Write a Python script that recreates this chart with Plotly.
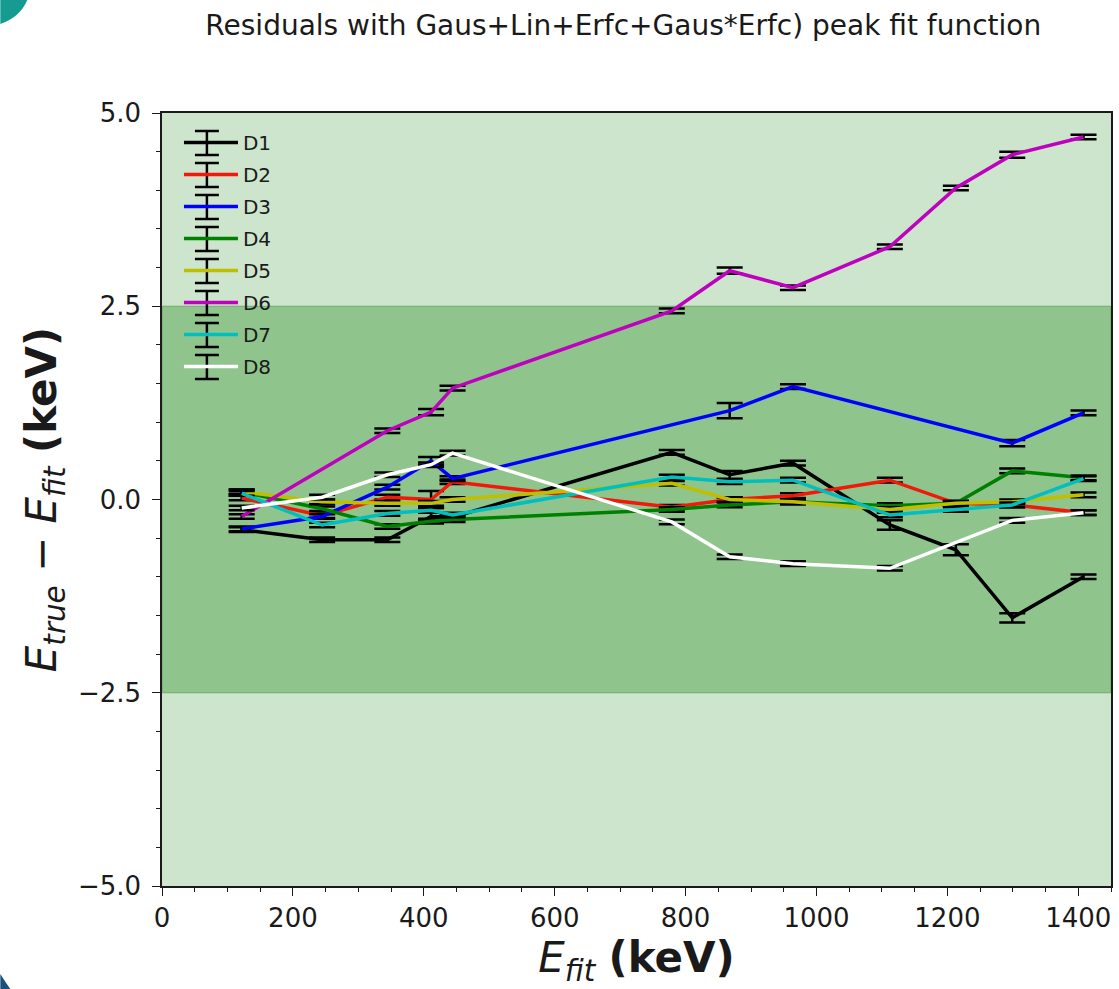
import plotly.graph_objects as go

# ---------------- data ----------------
E_ALL = [121.78, 244.70, 344.28, 411.12, 443.96, 778.90, 867.38, 964.08,
         1112.07, 1212.95, 1299.14, 1408.01]

d1_x = E_ALL
d1_y = [-0.39, -0.52, -0.52, -0.22, -0.23, 0.61, 0.32, 0.47, -0.33, -0.65, -1.53, -1.00]
d1_e = [0.03, 0.03, 0.03, 0.05, 0.03, 0.03, 0.05, 0.03, 0.06, 0.07, 0.06, 0.03]

d2_x = E_ALL
d2_y = [0.02, -0.21, 0.03, 0.00, 0.23, -0.10, 0.00, 0.05, 0.25, -0.05, -0.07, -0.17]
d2_e = [0.03, 0.03, 0.03, 0.11, 0.03, 0.03, 0.03, 0.03, 0.03, 0.03, 0.03, 0.03]

d3_x = [121.78, 244.70, 344.28, 411.12, 443.96, 867.38, 964.08, 1299.14, 1408.01]
d3_y = [-0.38, -0.22, 0.16, 0.50, 0.27, 1.15, 1.46, 0.73, 1.12]
d3_e = [0.03, 0.03, 0.03, 0.05, 0.03, 0.10, 0.03, 0.04, 0.03]

d4_x = E_ALL
d4_y = [0.10, -0.12, -0.35, -0.28, -0.26, -0.13, -0.07, -0.03, -0.08, -0.05, 0.37, 0.28]
d4_e = [0.03] * 12

d5_x = E_ALL
d5_y = [0.10, -0.03, -0.05, -0.05, 0.00, 0.21, 0.00, -0.03, -0.13, -0.05, -0.03, 0.06]
d5_e = [0.03] * 12

d6_x = [121.78, 344.28, 411.12, 443.96, 778.90, 867.38, 964.08, 1112.07,
        1212.95, 1299.14, 1408.01]
d6_y = [-0.22, 0.89, 1.13, 1.44, 2.44, 2.96, 2.74, 3.27, 4.03, 4.46, 4.69]
d6_e = [0.03, 0.03, 0.04, 0.03, 0.03, 0.04, 0.03, 0.03, 0.03, 0.04, 0.03]

d7_x = E_ALL
d7_y = [0.08, -0.33, -0.18, -0.14, -0.20, 0.29, 0.23, 0.25, -0.20, -0.13, -0.07, 0.27]
d7_e = [0.03] * 12

d8_x = [121.78, 244.70, 344.28, 411.12, 443.96, 778.90, 867.38, 964.08,
        1112.07, 1299.14, 1408.01]
d8_y = [-0.11, 0.03, 0.32, 0.45, 0.60, -0.29, -0.74, -0.83, -0.89, -0.27, -0.17]
d8_e = [0.03] * 11

series_names = ["D1", "D2", "D3", "D4", "D5", "D6", "D7", "D8"]
series_x = [d1_x, d2_x, d3_x, d4_x, d5_x, d6_x, d7_x, d8_x]
series_y = [d1_y, d2_y, d3_y, d4_y, d5_y, d6_y, d7_y, d8_y]
series_e = [d1_e, d2_e, d3_e, d4_e, d5_e, d6_e, d7_e, d8_e]
series_colors = ["#000000", "#f0190a", "#0000ff", "#008000", "#bfbf00",
                 "#bf00bf", "#00bfbf", "#ffffff"]

x_ticks = [0, 200, 400, 600, 800, 1000, 1200, 1400]
y_ticks = [-5.0, -2.5, 0.0, 2.5, 5.0]
band_low, band_high = -2.5, 2.5

FONT = "DejaVu Sans"
INK = "#1a1a1a"

fig = go.Figure()
for name, xs, ys, es, col in zip(series_names, series_x, series_y, series_e, series_colors):
    fig.add_trace(go.Scatter(
        x=xs, y=ys, name=name, mode="lines", legendgroup=name,
        line=dict(color=col, width=3.5),
        error_y=dict(type="data", array=es, visible=True, color="black",
                     thickness=2.5, width=13),
    ))

# geometry helpers (figure px -> paper)
W, H = 1119, 989
L, R, T, B = 162, 6, 113, 103
PW, PH = W - L - R, H - T - B


def px(X, Y):
    return (X - L) / PW, (H - B - Y) / PH


shapes = []
# axes background (light green) and the +-2.5 band (darker green)
shapes.append(dict(type="rect", xref="x domain", yref="y domain", x0=0, x1=1, y0=0, y1=1,
                   fillcolor="rgb(204,229,204)", line=dict(width=0), layer="below"))
shapes.append(dict(type="rect", xref="x domain", yref="y", x0=0, x1=1,
                   y0=band_low, y1=band_high,
                   fillcolor="rgb(143,196,140)", line=dict(color="rgb(112,170,110)", width=1.2),
                   layer="below"))

# decorative frame corners
a = px(0, 0); b = px(27, 0); c = px(20, 17); d = px(0, 24)
shapes.append(dict(type="path", xref="paper", yref="paper",
                   path=f"M {a[0]},{a[1]} L {b[0]},{b[1]} Q {c[0]},{c[1]} {d[0]},{d[1]} Z",
                   fillcolor="#169b93", line=dict(width=0)))
a = px(0, 989); b = px(0, 974); c = px(5, 982); d = px(10, 989)
shapes.append(dict(type="path", xref="paper", yref="paper",
                   path=f"M {a[0]},{a[1]} L {b[0]},{b[1]} Q {c[0]},{c[1]} {d[0]},{d[1]} Z",
                   fillcolor="#1b4f7c", line=dict(width=0)))

# error-bar glyphs beside the legend lines (legend decoration)
LEG_X, LEG_TOP, LEG_STEP = 207, 143, 32
for i in range(len(series_names)):
    yc = LEG_TOP + LEG_STEP * i
    for (x0, y0, x1, y1) in [(LEG_X, yc - 12, LEG_X, yc + 12),
                             (LEG_X - 12, yc - 12, LEG_X + 12, yc - 12),
                             (LEG_X - 12, yc + 12, LEG_X + 12, yc + 12)]:
        p0 = px(x0, y0); p1 = px(x1, y1)
        shapes.append(dict(type="line", xref="paper", yref="paper",
                           x0=p0[0], y0=p0[1], x1=p1[0], y1=p1[1],
                           line=dict(color="black", width=2.5)))

axis_common = dict(showline=True, linecolor=INK, linewidth=1.5, mirror=True,
                   ticks="outside", ticklen=8, tickwidth=1.3, tickcolor=INK,
                   showgrid=False, zeroline=False,
                   tickfont=dict(family=FONT, size=26, color=INK))

fig.update_layout(
    width=W, height=H,
    margin=dict(l=L, r=R, t=T, b=B),
    paper_bgcolor="white",
    plot_bgcolor="rgba(0,0,0,0)",
    shapes=shapes,
    title=dict(text="Residuals with Gaus+Lin+Erfc+Gaus*Erfc) peak fit function",
               x=0.557, xref="container", xanchor="center",
               y=1 - 25 / H, yref="container", yanchor="middle",
               font=dict(family=FONT, size=28, color=INK)),
    xaxis=dict(range=[0, 1450], tickvals=x_ticks, ticktext=[str(v) for v in x_ticks],
               minor=dict(dtick=50, tick0=0, ticks="outside", ticklen=4, tickcolor=INK),
               title=dict(text="<i>E</i><sub><i>fit</i></sub> <b>(keV)</b>",
                          font=dict(family=FONT, size=42, color=INK), standoff=4),
               **axis_common),
    yaxis=dict(range=[-5, 5], tickvals=y_ticks,
               ticktext=[f"{v:.1f}".replace("-", "\u2212") for v in y_ticks],
               minor=dict(dtick=0.5, tick0=0, ticks="outside", ticklen=4, tickcolor=INK),
               title=dict(text="<i>E</i><sub><i>true</i></sub> \u2212 <i>E</i><sub><i>fit</i></sub> <b>(keV)</b>",
                          font=dict(family=FONT, size=42, color=INK), standoff=8),
               ticklabelstandoff=6,
               **axis_common),
    showlegend=True,
    legend=dict(x=(179 - L) / PW, y=(H - B - 123) / PH, xanchor="left", yanchor="top",
                bgcolor="rgba(0,0,0,0)", borderwidth=0, tracegroupgap=3, itemwidth=54,
                font=dict(family=FONT, size=20, color=INK)),
)

fig.write_html("out.html")
